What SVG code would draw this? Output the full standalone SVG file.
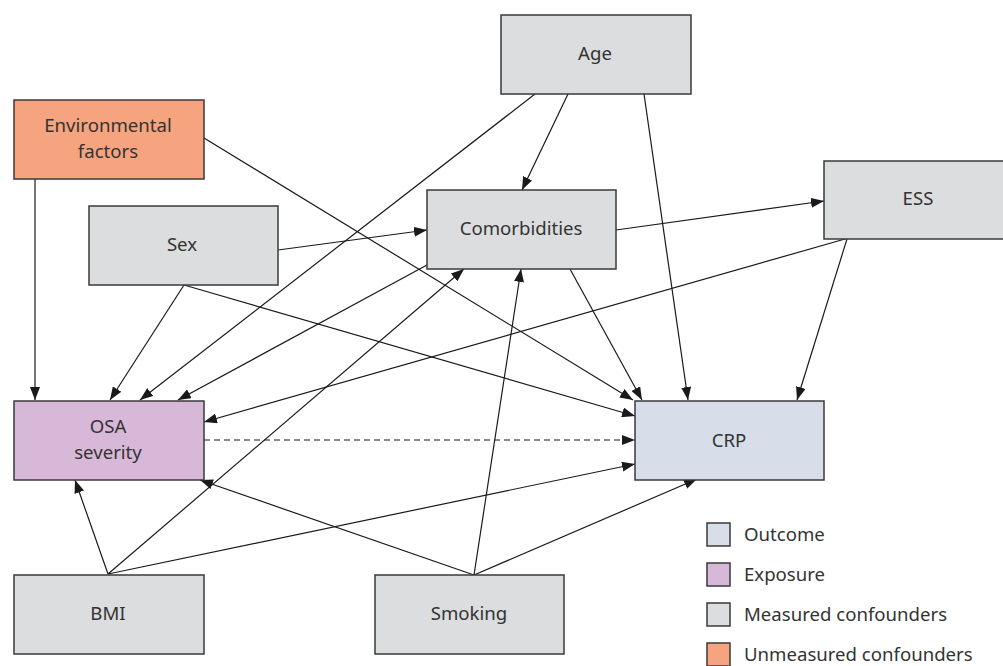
<svg xmlns="http://www.w3.org/2000/svg" width="1003" height="666" viewBox="0 0 1003 666">
<style>
.box{stroke:#3a3a3a;stroke-width:1.5}
.m{fill:#dcdddf}
.u{fill:#f5a47f}
.e{fill:#d8b8d8}
.o{fill:#d7dee9}
text{font-family:"Noto Sans","Liberation Sans",sans-serif;font-size:18.6px;fill:#333;text-anchor:middle}
.lg{text-anchor:start}
.c{stroke:#1a1a1a;stroke-width:1.2;fill:none;marker-end:url(#ah)}
</style>
<defs>
<marker id="ah" markerUnits="userSpaceOnUse" markerWidth="13" markerHeight="10" refX="13" refY="5" orient="auto">
<path d="M0,0 L13,5 L0,10 z" fill="#1a1a1a"/>
</marker>
</defs>
<rect width="1003" height="666" fill="#fff"/>
<g id="connectors">
<path class="c" d="M35,179 L35,400"/>
<path class="c" d="M204,138 L633,400"/>
<path class="c" d="M568,94 L522,190"/>
<path class="c" d="M535,94 L140,400"/>
<path class="c" d="M644,94 L688,400"/>
<path class="c" d="M278,250 L427,230"/>
<path class="c" d="M184,285 L110,400"/>
<path class="c" d="M184,285 L635,416"/>
<path class="c" d="M427,265 L178,400"/>
<path class="c" d="M570,269 L642,400"/>
<path class="c" d="M616,230 L824,201"/>
<path class="c" d="M845,239 L204,422"/>
<path class="c" d="M847,239 L797,400"/>
<path class="c" d="M204,440 L635,440" stroke-dasharray="6,4"/>
<path class="c" d="M108,574 L75,480"/>
<path class="c" d="M108,574 L464,269"/>
<path class="c" d="M108,574 L635,464"/>
<path class="c" d="M474,575 L200,480"/>
<path class="c" d="M474,575 L521,269"/>
<path class="c" d="M474,575 L697,479"/>
</g>
<g id="age"><rect class="box m" x="501" y="15" width="190" height="79"/><text x="595" y="60">Age</text></g>
<g id="env"><rect class="box u" x="14" y="100" width="190" height="79"/><text x="108" y="132">Environmental</text><text x="108" y="158">factors</text></g>
<g id="sex"><rect class="box m" x="89" y="206" width="189" height="79"/><text x="182" y="251">Sex</text></g>
<g id="comorbidities"><rect class="box m" x="427" y="190" width="189" height="79"/><text x="521" y="235">Comorbidities</text></g>
<g id="ess"><rect class="box m" x="824" y="161" width="190" height="78"/><text x="918" y="205">ESS</text></g>
<g id="osa"><rect class="box e" x="14" y="401" width="190" height="79"/><text x="108" y="433">OSA</text><text x="108" y="459">severity</text></g>
<g id="crp"><rect class="box o" x="635" y="401" width="189" height="79"/><text x="729" y="447">CRP</text></g>
<g id="bmi"><rect class="box m" x="14" y="575" width="190" height="79"/><text x="108" y="620">BMI</text></g>
<g id="smoking"><rect class="box m" x="375" y="575" width="189" height="79"/><text x="469" y="620">Smoking</text></g>
<g id="legend">
<rect class="box o" x="707" y="523" width="23" height="23"/><text class="lg" x="744" y="541">Outcome</text>
<rect class="box e" x="707" y="563" width="23" height="23"/><text class="lg" x="744" y="581">Exposure</text>
<rect class="box m" x="707" y="603" width="23" height="23"/><text class="lg" x="744" y="621">Measured confounders</text>
<rect class="box u" x="707" y="643" width="23" height="23"/><text class="lg" x="744" y="661">Unmeasured confounders</text>
</g>
</svg>
